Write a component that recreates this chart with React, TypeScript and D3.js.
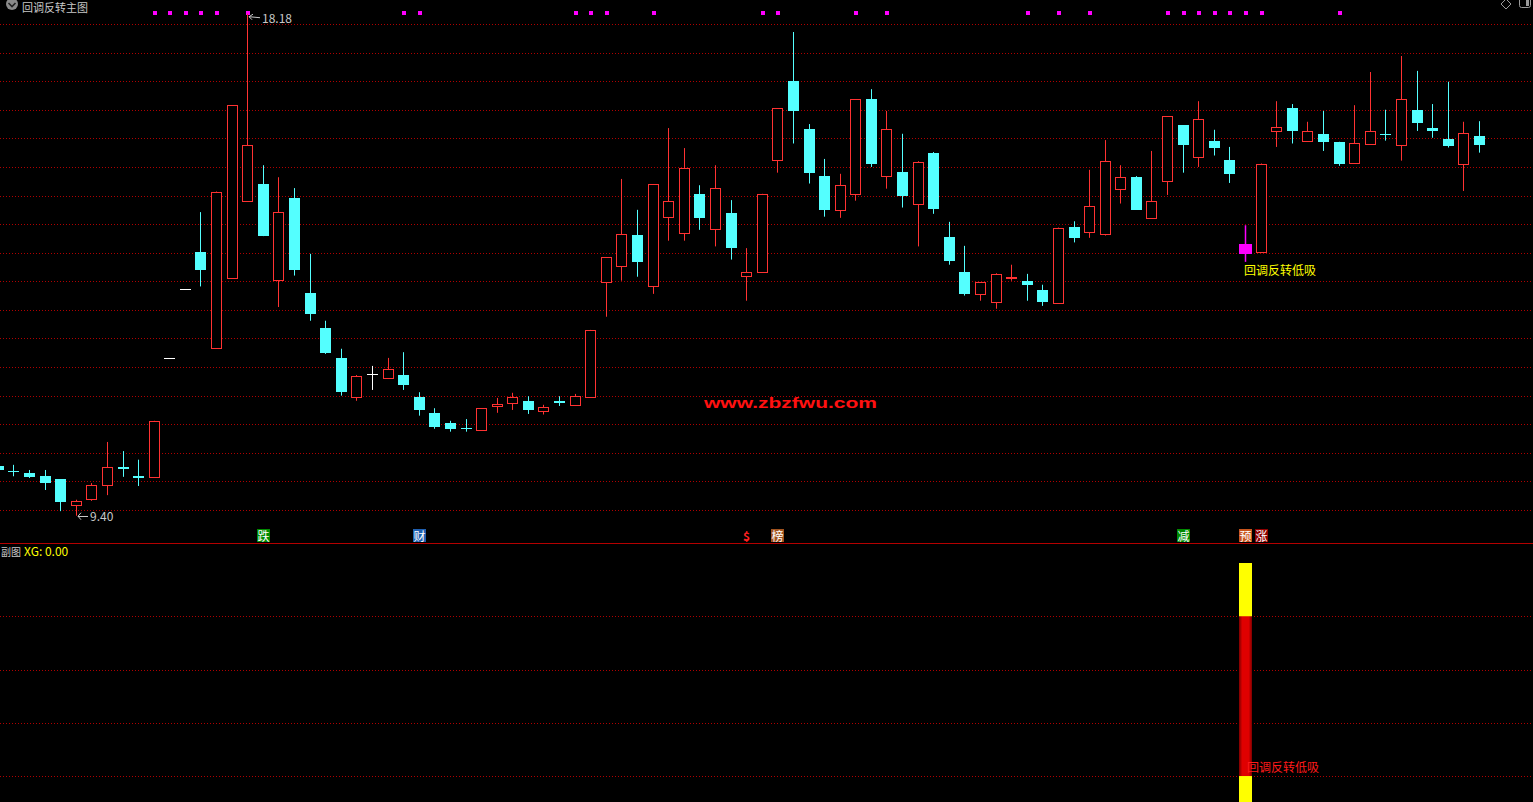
import React, { useEffect } from 'react';
import * as d3 from 'd3';

// ---- data (price) ----
const opens = [10.27,10.19,10.15,10.09,10.04,9.58,9.70,9.94,10.25,10.09,10.08,12.16,13.37,14.01,12.33,13.56,14.91,15.20,13.52,14.96,13.30,12.68,12.16,11.48,11.87,11.81,11.86,11.48,11.20,11.02,10.94,10.90,11.32,11.38,11.41,11.24,11.41,11.34,11.48,13.49,13.77,14.31,13.42,14.63,14.35,15.03,14.41,14.69,13.59,13.66,15.62,17.00,16.16,15.34,14.74,15.02,16.69,15.35,15.41,14.85,15.74,14.28,13.66,13.27,13.13,13.55,13.51,13.35,13.12,14.45,14.37,14.32,15.12,15.32,14.61,15.25,16.23,15.67,15.95,15.62,14.15,14.01,16.12,16.53,15.96,16.08,15.94,15.57,15.90,16.08,15.89,16.50,16.18,15.99,15.56,16.04];
const highs = [10.29,10.29,10.20,10.20,10.04,9.68,9.97,10.69,10.53,10.38,11.06,12.16,13.37,14.71,15.07,16.58,18.18,15.53,15.32,15.13,13.98,12.81,12.32,11.86,12.02,12.16,12.26,11.56,11.28,11.06,11.09,11.28,11.46,11.55,11.49,11.34,11.49,11.53,12.65,13.92,15.29,14.75,15.20,16.18,15.83,15.18,15.53,14.92,14.08,15.03,16.53,17.86,16.25,15.64,15.38,16.68,16.86,16.48,16.08,15.60,15.76,14.54,14.12,13.48,13.64,13.79,13.63,13.44,14.44,14.55,15.45,15.97,15.53,15.34,15.78,16.39,16.23,16.65,16.15,15.85,14.48,15.56,16.65,16.60,16.29,16.48,15.94,16.58,17.16,16.50,17.44,17.18,16.60,16.99,16.29,16.30];
const lows = [10.18,10.09,10.06,9.85,9.48,9.40,9.66,9.76,10.08,9.92,10.07,12.16,13.37,13.41,12.32,13.55,14.91,14.29,13.05,13.60,12.81,12.23,11.50,11.41,11.60,11.81,11.60,11.15,10.92,10.87,10.87,10.90,11.20,11.25,11.18,11.17,11.32,11.32,11.46,12.88,13.51,13.58,13.28,14.21,14.21,14.40,14.11,13.88,13.16,13.66,15.40,15.91,15.21,14.63,14.61,14.91,15.50,15.12,14.79,14.11,14.68,13.79,13.25,13.16,13.02,13.51,13.16,13.07,13.12,14.18,14.26,14.30,14.86,14.75,14.61,15.01,15.40,15.50,15.70,15.22,13.84,14.01,15.85,15.91,15.96,15.78,15.52,15.57,15.90,15.96,15.61,16.13,16.01,15.84,15.08,15.75];
const closes = [10.20,10.16,10.08,9.97,9.64,9.65,9.93,10.25,10.22,10.06,11.05,12.16,13.37,13.70,15.07,16.58,15.88,14.30,14.71,13.70,12.93,12.25,11.57,11.84,11.87,11.97,11.69,11.25,10.96,10.92,10.93,11.28,11.35,11.48,11.25,11.30,11.38,11.49,12.65,13.92,14.32,13.84,15.20,14.90,15.48,14.61,15.13,14.09,13.66,15.03,16.53,16.47,15.40,14.75,15.18,16.68,15.56,16.16,15.00,15.58,14.77,13.86,13.28,13.48,13.62,13.58,13.44,13.14,14.44,14.26,14.81,15.60,15.32,14.75,14.90,16.39,15.89,16.33,15.84,15.38,13.98,15.56,16.19,16.13,16.12,15.94,15.56,15.91,16.12,16.05,16.68,16.27,16.12,15.87,16.09,15.89];

const gridPrices = [9.5,10,10.5,11,11.5,12,12.5,13,13.5,14,14.5,15,15.5,16,16.5,17,17.5,18];
const topDotIdx = [10,11,12,13,14,16,26,27,37,38,39,42,49,50,55,57,66,68,70,75,76,77,78,79,80,81,86];
const markerIdx = [17,27,48,50,76,80,81];
const markerText = ['跌','财','$','榜','减','预','涨'];
const signalIdx = [80];
const signalLabel = '回调反转低吸';
const maxLabel = '18.18';
const minLabel = '9.40';
const subGrid = [0.2,0.4,0.6,0.8];
const xgValue = '0.00';

const UP = '#ff3232';
const DOWN = '#54ffff';
const GRID = '#b00000';
const FONT = '"Noto Sans CJK SC", "Noto Sans", sans-serif';

const markerStyle: Record<string, { bg: string; fg: string }> = {
  '跌': { bg: '#008a00', fg: '#ffffff' },
  '财': { bg: '#1f5fb0', fg: '#ffffff' },
  '$': { bg: 'none', fg: '#ff2020' },
  '榜': { bg: '#a0521e', fg: '#ffffff' },
  '减': { bg: '#008a00', fg: '#ffffff' },
  '预': { bg: '#c8541c', fg: '#ffffff' },
  '涨': { bg: '#8c0000', fg: '#ffffff' },
};

export default function App() {
  useEffect(() => {
    document.body.style.margin = '0';
    document.body.style.background = '#000';
  }, []);

  const W = 1533, H = 802;
  const n = closes.length;
  const x = d3.scaleLinear().domain([0, n - 1]).range([-2.2, 1478.9]);
  const y = d3.scaleLinear().domain([9.5, 18]).range([510, 24]);
  const y2 = d3.scaleLinear().domain([0, 1]).range([829.3, 563]);
  const bw = 10;

  const px = (v: number) => Math.round(v) + 0.5;

  const candles = closes.map((c, i) => {
    const o = opens[i], h = highs[i], l = lows[i];
    const cx = Math.round(x(i));
    const yo = y(o), yc = y(c), yh = y(h), yl = y(l);
    const isSignal = signalIdx.includes(i);
    if (isSignal) {
      const top = Math.round(Math.min(yo, yc)), bot = Math.round(Math.max(yo, yc));
      return (
        <g key={i}>
          <line x1={cx + 0.5} x2={cx + 0.5} y1={yh} y2={yl} stroke="#ff00ff" strokeWidth={1.5} />
          <rect x={cx - 6} y={top} width={13} height={Math.max(1, bot - top)} fill="#ff00ff" />
        </g>
      );
    }
    if (c > o) {
      const top = px(yc), bot = px(yo);
      return (
        <g key={i}>
          <line x1={cx + 0.5} x2={cx + 0.5} y1={yh} y2={top} stroke={UP} />
          <line x1={cx + 0.5} x2={cx + 0.5} y1={bot} y2={yl} stroke={UP} />
          <rect x={cx - 5 + 0.5} y={top} width={bw} height={Math.max(1, bot - top)} fill="#000" stroke={UP} strokeWidth={1} />
        </g>
      );
    }
    if (c < o) {
      const top = Math.round(yo), bot = Math.round(yc);
      return (
        <g key={i}>
          <line x1={cx + 0.5} x2={cx + 0.5} y1={yh} y2={yl} stroke={DOWN} />
          <rect x={cx - 5} y={top} width={bw + 1} height={Math.max(1, bot - top)} fill={DOWN} />
        </g>
      );
    }
    // doji / flat
    return (
      <g key={i}>
        {h !== l && <line x1={cx + 0.5} x2={cx + 0.5} y1={yh} y2={yl} stroke="#ffffff" />}
        <line x1={cx - 5} x2={cx + 6} y1={px(yo)} y2={px(yo)} stroke="#ffffff" />
      </g>
    );
  });

  const maxI = highs.indexOf(d3.max(highs) as number);
  const minI = lows.indexOf(d3.min(lows) as number);

  return (
    <svg width={W} height={H} style={{ position: 'absolute', left: 0, top: 0, background: '#000', display: 'block' }}>
      <rect x={0} y={0} width={W} height={H} fill="#000" />
      {/* main grid */}
      {gridPrices.map((p) => (
        <line key={p} x1={0} x2={W} y1={px(y(p))} y2={px(y(p))} stroke={GRID} strokeDasharray="1,2" />
      ))}
      {/* sub grid */}
      {subGrid.map((v) => (
        <line key={v} x1={0} x2={W} y1={px(y2(v))} y2={px(y2(v))} stroke={GRID} strokeDasharray="1,2" />
      ))}
      {/* separator */}
      <line x1={0} x2={W} y1={543.5} y2={543.5} stroke="#b40000" />

      {/* header */}
      <circle cx={12} cy={4} r={6} fill="#8a8a8a" />
      <path d="M8.5,3 L12,6.5 L15.5,3" fill="none" stroke="#222" strokeWidth={1.6} />
      <text x={22} y={12} fill="#c8c8c8" fontSize={11} fontFamily={FONT}>回调反转主图</text>
      <path d="M1506,-1 L1511,4 L1506,9 L1501,4 Z" fill="none" stroke="#9a9a9a" />
      <rect x={1519.5} y={-4.5} width={11} height={12} rx={2} fill="none" stroke="#9a9a9a" />
      <rect x={1526} y={-3} width={3} height={9} fill="#9a9a9a" />

      {/* top dots */}
      {topDotIdx.map((i) => (
        <rect key={i} x={Math.round(x(i)) - 1} y={11} width={4} height={4} fill="#ff00ff" />
      ))}

      {/* watermark */}
      <text x={704} y={407.5} fill="#ff1010" fontSize={14.5} fontWeight="bold" fontFamily="Liberation Sans, Arial, sans-serif" textLength={173} lengthAdjust="spacingAndGlyphs">www.zbzfwu.com</text>

      {candles}

      {/* max / min labels */}
      <g>
        <line x1={Math.round(x(maxI)) + 2} x2={Math.round(x(maxI)) + 13} y1={y(highs[maxI]) + 3} y2={y(highs[maxI]) + 4} stroke="#c8c8c8" />
        <path d={`M${Math.round(x(maxI)) + 6},${y(highs[maxI]) + 0.5} L${Math.round(x(maxI)) + 2},${y(highs[maxI]) + 3} L${Math.round(x(maxI)) + 5},${y(highs[maxI]) + 6}`} fill="none" stroke="#c8c8c8" />
        <text x={Math.round(x(maxI)) + 15} y={y(highs[maxI]) + 9.5} fill="#c8c8c8" fontSize={12} fontFamily={FONT}>{maxLabel}</text>
      </g>
      <g>
        <line x1={Math.round(x(minI)) + 2} x2={Math.round(x(minI)) + 12} y1={px(y(lows[minI]))} y2={px(y(lows[minI]))} stroke="#c8c8c8" />
        <path d={`M${Math.round(x(minI)) + 5},${y(lows[minI]) - 3} L${Math.round(x(minI)) + 2},${y(lows[minI]) + 0.5} L${Math.round(x(minI)) + 5},${y(lows[minI]) + 4}`} fill="none" stroke="#c8c8c8" />
        <text x={Math.round(x(minI)) + 14} y={y(lows[minI]) + 5} fill="#c8c8c8" fontSize={12} fontFamily={FONT}>{minLabel}</text>
      </g>

      {/* signal label in main */}
      {signalIdx.map((i) => (
        <text key={i} x={Math.round(x(i)) - 1} y={275} fill="#ffff00" fontSize={12} fontFamily={FONT}>{signalLabel}</text>
      ))}

      {/* markers */}
      {markerIdx.map((i, k) => {
        const t = markerText[k];
        const st = markerStyle[t];
        const cx = Math.round(x(i));
        return (
          <g key={k}>
            {st.bg !== 'none' && <rect x={cx - 6} y={529} width={13} height={13} fill={st.bg} />}
            <text x={cx + 0.5} y={540.5} textAnchor="middle" fill={st.fg} fontSize={12} fontWeight={t === '$' ? 'bold' : 'normal'} fontFamily={FONT}>{t}</text>
          </g>
        );
      })}

      {/* sub panel */}
      <text x={1} y={556} fill="#c8c8c8" fontSize={10} fontFamily={FONT}>副图</text>
      <text x={24} y={556} fill="#ffff00" fontSize={12} fontFamily={FONT}>XG: {xgValue}</text>
      <defs>
        <linearGradient id="redbar" x1="0" x2="1" y1="0" y2="0">
          <stop offset="0" stopColor="#7a0000" />
          <stop offset="0.25" stopColor="#e00000" />
          <stop offset="0.75" stopColor="#e00000" />
          <stop offset="1" stopColor="#7a0000" />
        </linearGradient>
      </defs>
      {signalIdx.map((i) => {
        const cx = Math.round(x(i));
        return (
          <g key={i}>
            <rect x={cx - 6} y={y2(1)} width={13} height={y2(0) - y2(1)} fill="#ffff00" />
            <rect x={cx - 6} y={y2(0.8)} width={13} height={y2(0.2) - y2(0.8)} fill="url(#redbar)" />
            <text x={cx + 2} y={772} fill="#ff1a1a" fontSize={12} fontFamily={FONT}>{signalLabel}</text>
          </g>
        );
      })}
    </svg>
  );
}
